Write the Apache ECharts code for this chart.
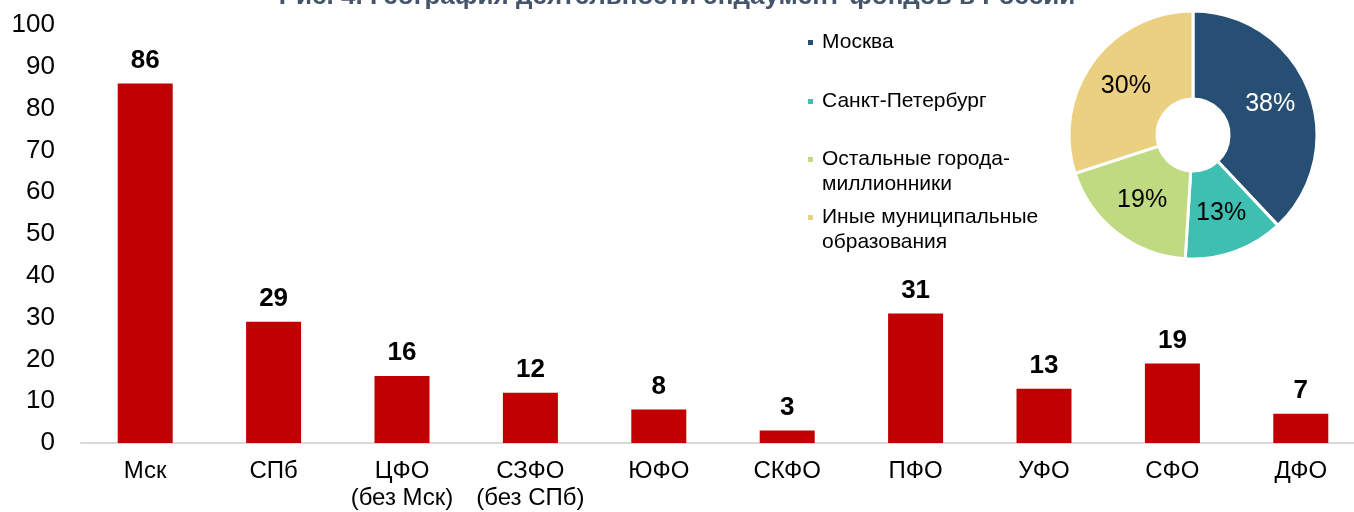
<!DOCTYPE html>
<html>
<head>
<meta charset="utf-8">
<script src="https://cdn.jsdelivr.net/npm/echarts@6/dist/echarts.min.js"></script>
<style>
  html, body { margin: 0; padding: 0; background: #fff; }
  #container { width: 1354px; height: 512px; }
</style>
</head>
<body>
<div id="container"></div>
<script>
// данные по округам
const regions = ['Мск', 'СПб', 'ЦФО\n(без Мск)', 'СЗФО\n(без СПб)', 'ЮФО', 'СКФО', 'ПФО', 'УФО', 'СФО', 'ДФО'];
const funds = [86, 29, 16, 12, 8, 3, 31, 13, 19, 7];

// структура по типам городов, %
const cityTypes = ['Москва', 'Санкт-Петербург', 'Остальные города-\nмиллионники', 'Иные муниципальные\nобразования'];
const cityShares = [38, 13, 19, 30];
const cityColors = ['#274f74', '#3fbfb1', '#bfda80', '#ecd081'];

const font = 'Liberation Sans, Arial, sans-serif';

// квадратик сверху, невидимая точка снизу — чтобы значок стоял у первой строки
const tallIcon = 'path://M0,0L7,0L7,7L0,7Z M0,32L0.01,32L0.01,32.01Z';

const chart = echarts.init(document.getElementById('container'), null, { renderer: 'canvas' });

const legendText = { fontFamily: font, fontSize: 21, color: '#000', lineHeight: 25, padding: [0, 0, 0, 3] };

const option = {
    animation: false,
    title: {
        text: 'Рис. 4. География деятельности эндаумент-фондов в России',
        left: 'center',
        top: 0,
        padding: [-16, 5, 5, 5],
        textStyle: { fontFamily: font, fontSize: 26, fontWeight: 'bold', color: '#44546a' }
    },
    grid: { left: 81, width: 1284, top: 25, bottom: 69, outerBoundsMode: 'none', containLabel: false },
    legend: [
        {
            orient: 'vertical',
            left: 801,
            top: 25,
            itemWidth: 7,
            itemHeight: 7,
            itemGap: 34,
            icon: 'rect',
            textStyle: legendText,
            data: cityTypes.slice(0, 2)
        },
        {
            orient: 'vertical',
            left: 801,
            top: 142,
            itemWidth: 7,
            itemHeight: 32,
            itemGap: 8,
            icon: tallIcon,
            textStyle: legendText,
            data: cityTypes.slice(2)
        }
    ],
    xAxis: {
        type: 'category',
        data: regions,
        axisLine: { lineStyle: { color: '#d9d9d9', width: 2 } },
        axisTick: { show: false },
        axisLabel: { interval: 0, fontFamily: font, fontSize: 24, color: '#000', lineHeight: 27, margin: 15 }
    },
    yAxis: {
        type: 'value',
        min: 0,
        max: 100,
        interval: 10,
        axisLine: { show: false },
        axisTick: { show: false },
        splitLine: { show: false },
        axisLabel: { fontFamily: font, fontSize: 26, color: '#000', margin: 26 }
    },
    series: [
        {
            name: 'Фонды',
            type: 'bar',
            data: funds,
            barWidth: 55,
            itemStyle: { color: '#c00000' },
            label: {
                show: true,
                position: 'top',
                distance: 10,
                fontFamily: font,
                fontSize: 26,
                fontWeight: 'bold',
                color: '#000'
            }
        },
        {
            name: 'Типы городов',
            type: 'pie',
            center: [1193, 135],
            radius: [36, 124],
            startAngle: 90,
            clockwise: true,
            itemStyle: { borderColor: '#fff', borderWidth: 3 },
            label: {
                show: true,
                position: 'inside',
                formatter: '{c}%',
                fontFamily: font,
                fontSize: 25,
                color: '#000'
            },
            labelLine: { show: false },
            data: cityTypes.map((name, i) => ({
                name: name,
                value: cityShares[i],
                itemStyle: { color: cityColors[i] },
                label: i === 0 ? { color: '#fff' } : {}
            }))
        }
    ]
};

chart.setOption(option);
window.addEventListener('resize', () => chart.resize());
</script>
</body>
</html>
